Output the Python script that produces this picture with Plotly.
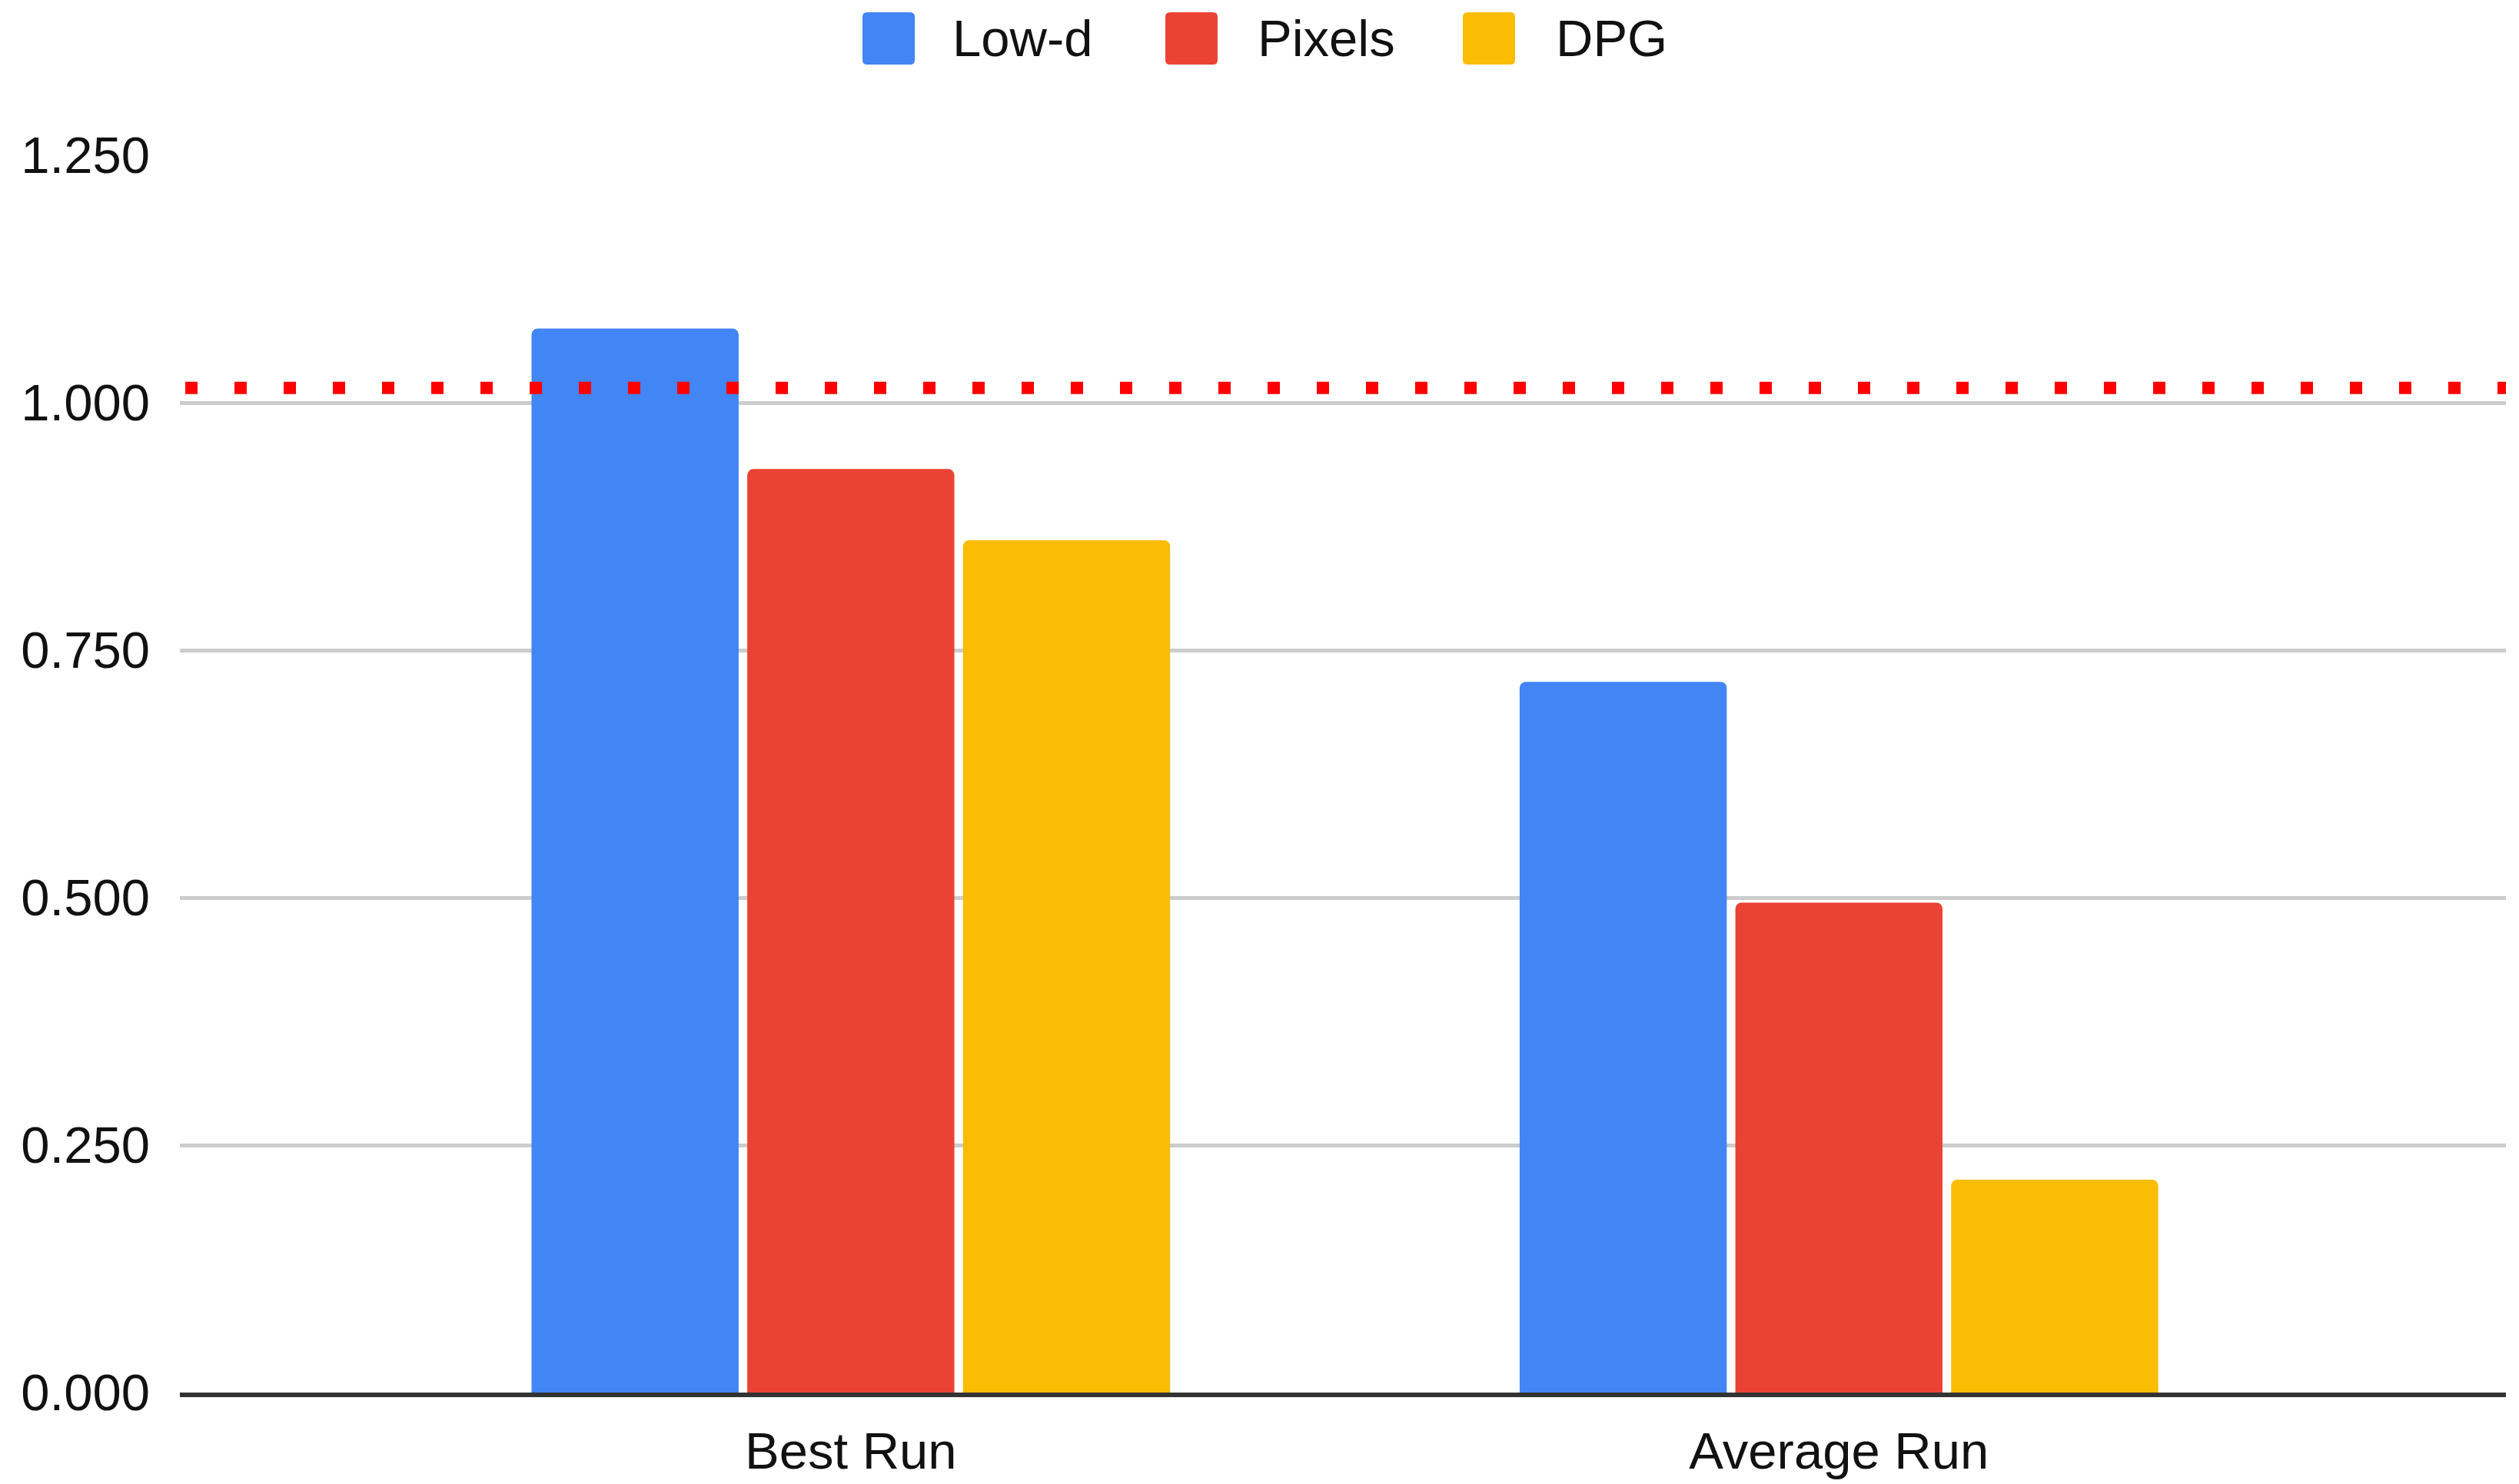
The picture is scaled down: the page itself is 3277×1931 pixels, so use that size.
import plotly.graph_objects as go

# Data
categories = ["Best Run", "Average Run"]
series_names = ["Low-d", "Pixels", "DPG"]
low_d = [1.075, 0.718]
pixels = [0.933, 0.495]
dpg = [0.861, 0.215]
reference_level = 1.015
y_ticks = [0.0, 0.25, 0.5, 0.75, 1.0, 1.25]

colors = ["#4285F4", "#EA4335", "#FBBC04"]
font_family = "Liberation Sans, Arial, sans-serif"
font_size = 67
text_color = "#111111"

W, H = 3277, 1931
m_l, m_r, m_t, m_b = 234, 17, 202, 119
plot_w = W - m_l - m_r
plot_h = H - m_t - m_b

fig = go.Figure()
for name, vals, col in zip(series_names, [low_d, pixels, dpg], colors):
    fig.add_trace(go.Bar(
        x=categories, y=vals, name=name,
        marker=dict(color=col, line=dict(width=0), cornerradius=8),
        showlegend=False,
    ))

# Dotted red reference line
fig.add_shape(
    type="line", xref="paper", yref="y",
    x0=7 / plot_w, x1=1, y0=reference_level, y1=reference_level,
    line=dict(color="#FF0000", width=16, dash="16px,48px"),
    layer="above",
)


def rounded_square(half, r):
    a = half - r
    return (
        f"M {-a},{-half} L {a},{-half} Q {half},{-half} {half},{-a} "
        f"L {half},{a} Q {half},{half} {a},{half} "
        f"L {-a},{half} Q {-half},{half} {-half},{a} "
        f"L {-half},{-a} Q {-half},{-half} {-a},{-half} Z"
    )


# Legend drawn at the top centre: colour swatch + label
legend_items = [
    (1122, 1237),
    (1516, 1634),
    (1903, 2022),
]
sw = 68
cy = 50
swatch_path = rounded_square(sw / 2, 6)
for (sx, tx), name, col in zip(legend_items, series_names, colors):
    fig.add_shape(
        type="path", xref="paper", yref="paper",
        xsizemode="pixel", ysizemode="pixel",
        xanchor=(sx + sw / 2 - m_l) / plot_w,
        yanchor=(H - m_b - cy) / plot_h,
        path=swatch_path,
        fillcolor=col, line=dict(width=0), layer="above",
    )
    fig.add_annotation(
        xref="paper", yref="paper",
        x=(tx - m_l) / plot_w, y=(H - m_b - cy) / plot_h,
        xanchor="left", yanchor="middle", showarrow=False,
        text=name, font=dict(family=font_family, size=font_size, color=text_color),
    )

fig.update_layout(
    width=W, height=H,
    margin=dict(l=m_l, r=m_r, t=m_t, b=m_b, pad=0, autoexpand=False),
    paper_bgcolor="white", plot_bgcolor="white",
    barmode="group", bargap=0.345, bargroupgap=0.04,
    font=dict(family=font_family, size=font_size, color=text_color),
    xaxis=dict(
        type="category", range=[-0.679, 1.675], automargin=False,
        showgrid=False, ticks="", showline=True, linecolor="#333333", linewidth=6,
        ticklabelstandoff=13,
        tickfont=dict(family=font_family, size=font_size, color=text_color),
    ),
    yaxis=dict(
        range=[0, 1.25], tickvals=y_ticks, tickformat=".3f", automargin=False,
        showgrid=True, gridcolor="#CCCCCC", gridwidth=5,
        zeroline=False, showline=False, ticks="",
        ticklabelstandoff=38,
        tickfont=dict(family=font_family, size=font_size, color=text_color),
    ),
)

fig.write_html("out.html")
